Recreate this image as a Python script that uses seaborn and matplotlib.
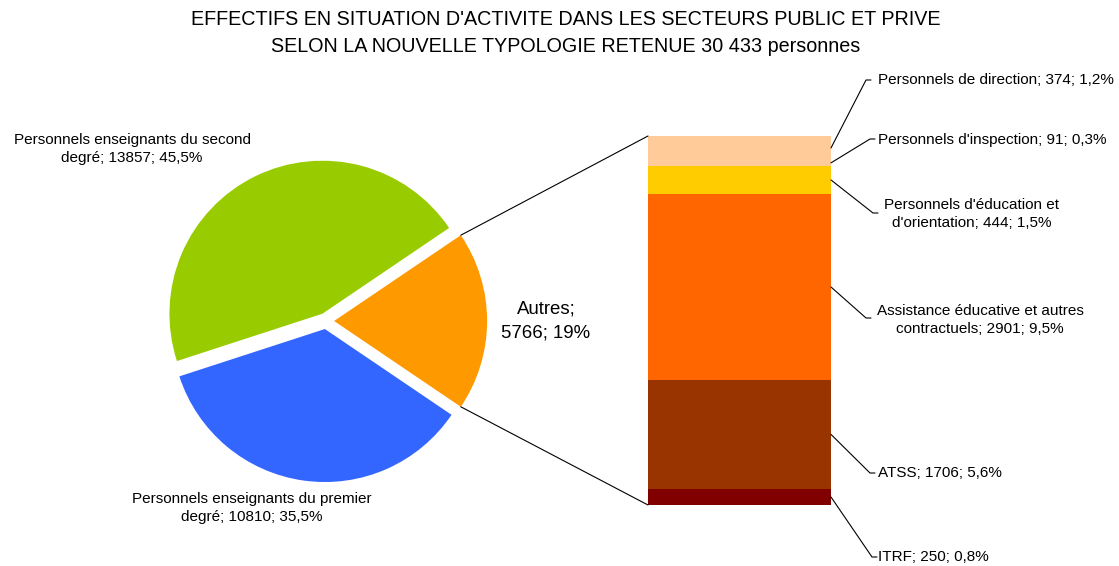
import matplotlib
matplotlib.use('Agg')
import matplotlib.pyplot as plt
from matplotlib.lines import Line2D
from matplotlib.patches import ConnectionPatch
import seaborn as sns
import numpy as np

# pie part
pie_labels = ["Autres", "Personnels enseignants du second degré",
              "Personnels enseignants du premier degré"]
pie_values = [5766, 13857, 10810]
pie_text = ["Autres;\n5766; 19%",
            "Personnels enseignants du second\ndegré; 13857; 45,5%",
            "Personnels enseignants du premier\ndegré; 10810; 35,5%"]
pie_colors = ["#FF9900", "#99CC00", "#3366FF"]

# breakdown of "Autres", bottom to top
bar_labels = ["ITRF", "ATSS", "Assistance éducative et autres contractuels",
              "Personnels d'éducation et d'orientation",
              "Personnels d'inspection", "Personnels de direction"]
bar_values = [250, 1706, 2901, 444, 91, 374]
bar_text = ["ITRF; 250; 0,8%", "ATSS; 1706; 5,6%",
            "Assistance éducative et autres\ncontractuels; 2901; 9,5%",
            "Personnels d'éducation et\nd'orientation; 444; 1,5%",
            "Personnels d'inspection; 91; 0,3%",
            "Personnels de direction; 374; 1,2%"]
bar_colors = ["#800000", "#993300", "#FF6600", "#FFCC00", "#FFCC99", "#FFCC99"]

TITLE = ("EFFECTIFS EN SITUATION D'ACTIVITE DANS LES SECTEURS PUBLIC ET PRIVE\n"
         "SELON LA NOUVELLE TYPOLOGIE RETENUE 30 433 personnes")

sns.set_style("white")
plt.rcParams['font.family'] = ['Liberation Sans', 'DejaVu Sans']
plt.rcParams['text.color'] = 'black'

W, H = 1119, 566
fig = plt.figure(figsize=(W / 100, H / 100), dpi=100)


def fx(x):
    return x / W


def fy(y):
    # y measured from the top of the image
    return 1 - y / H


# pie axes: centre (326, 321), radius 153 px
r_px = 153
lim = 1.2
cx, cy = 326, 321
ax_pie = fig.add_axes([fx(cx - lim * r_px), fy(cy + lim * r_px),
                       2 * lim * r_px / W, 2 * lim * r_px / H])
share = pie_values[0] / sum(pie_values) * 360
expl = 0.053
wedges, _ = ax_pie.pie(pie_values, colors=pie_colors, startangle=-share / 2,
                       counterclock=True, explode=[expl] * 3, radius=1,
                       wedgeprops=dict(linewidth=0))
ax_pie.set_xlim(-lim, lim)
ax_pie.set_ylim(-lim, lim)
ax_pie.set_aspect('equal')
ax_pie.axis('off')

# stacked bar axes: x 648..831, y 136..505
bx0, bx1, by0, by1 = 648, 831, 136, 505
ax_bar = fig.add_axes([fx(bx0), fy(by1), (bx1 - bx0) / W, (by1 - by0) / H])
bottoms = np.concatenate([[0], np.cumsum(bar_values)[:-1]])
ax_bar.bar([0] * len(bar_values), bar_values, bottom=bottoms, width=1.0,
           color=bar_colors, linewidth=0)
ax_bar.set_xlim(-0.5, 0.5)
ax_bar.set_ylim(0, sum(bar_values))
ax_bar.axis('off')

# connector lines from the "Autres" slice to the bar
half = np.radians(share / 2)
for sgn, yb in [(1, sum(bar_values)), (-1, 0)]:
    p = (expl + np.cos(half), sgn * np.sin(half))
    con = ConnectionPatch(xyA=p, coordsA=ax_pie.transData,
                          xyB=(-0.5, yb), coordsB=ax_bar.transData,
                          color='black', linewidth=0.8)
    fig.add_artist(con)

# pie labels
fig.text(fx(546), fy(321), pie_text[0], ha='center', va='center',
         fontsize=13.4, linespacing=1.5)
fig.text(fx(132), fy(149), pie_text[1], ha='center', va='center',
         fontsize=11, linespacing=1.4)
fig.text(fx(252), fy(508), pie_text[2], ha='center', va='center',
         fontsize=11, linespacing=1.4)

# bar labels with leader lines
elbows = [(872, 557), (870, 473), (866, 318), (873, 213), (870, 139), (866, 80)]
text_pos = [(878, 557, 'left'), (878, 473, 'left'), (980, 320, 'center'),
            (972, 214, 'center'), (878, 140, 'left'), (878, 80, 'left')]
inv = fig.transFigure.inverted()
for i, val in enumerate(bar_values):
    mid = bottoms[i] + val / 2
    sx, sy = inv.transform(ax_bar.transData.transform((0.5, mid)))
    ex, ey = elbows[i]
    fig.add_artist(Line2D([sx, fx(ex), fx(ex + 5)], [sy, fy(ey), fy(ey)],
                          color='black', linewidth=0.8))
    tx, ty, ha = text_pos[i]
    fig.text(fx(tx), fy(ty), bar_text[i], ha=ha, va='center',
             fontsize=11, linespacing=1.4, multialignment='center')

fig.text(fx(566), fy(33), TITLE, ha='center', va='center', fontsize=14.2,
         linespacing=1.5)

fig.savefig("out.png", dpi=100)
plt.close(fig)
